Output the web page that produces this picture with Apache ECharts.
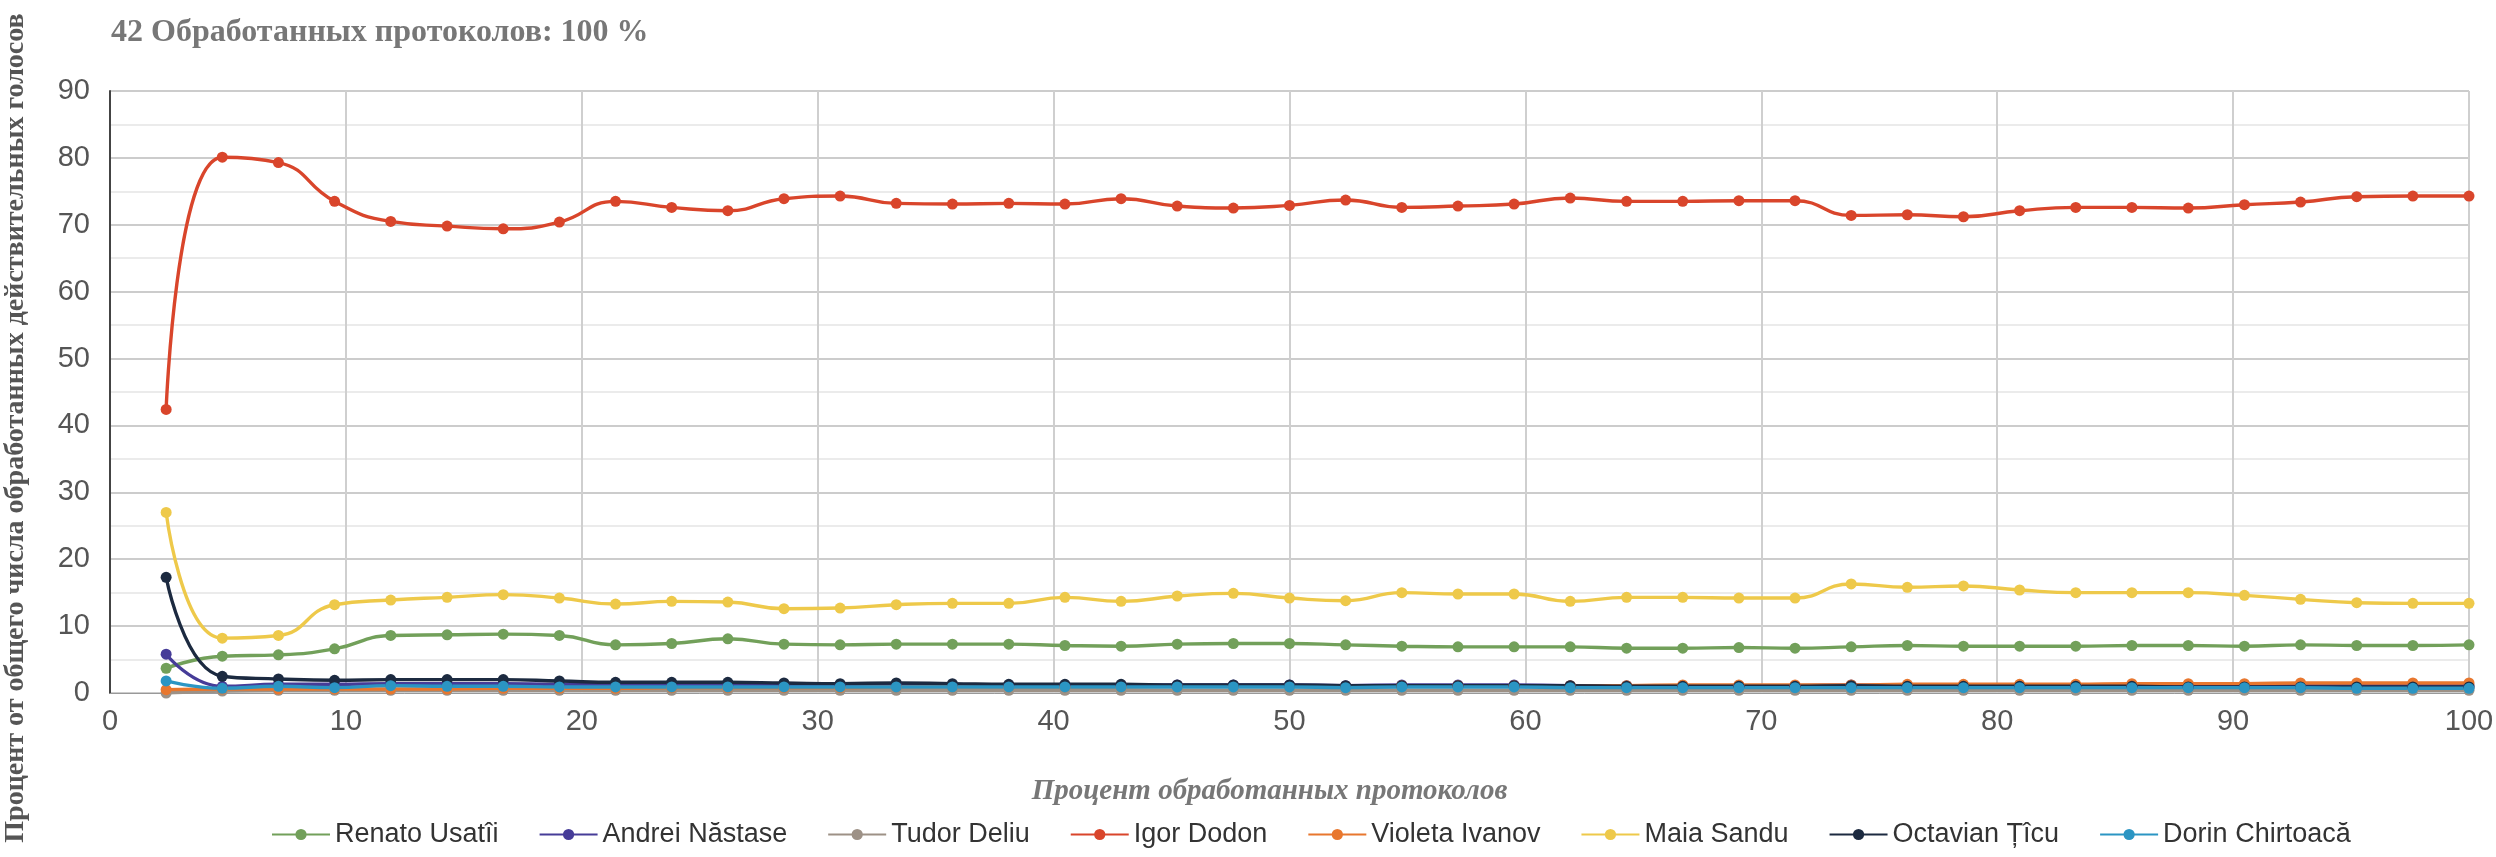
<!DOCTYPE html>
<html><head><meta charset="utf-8">
<script src="https://cdn.jsdelivr.net/npm/echarts@6/dist/echarts.min.js"></script>
<style>html,body{margin:0;padding:0;background:#fff}#c{width:2496px;height:857px}</style>
</head><body><div id="c"></div>
<script>
const xPercent = [2.38, 4.76, 7.14, 9.52, 11.9, 14.29, 16.67, 19.05, 21.43, 23.81, 26.19, 28.57, 30.95, 33.33, 35.71, 38.1, 40.48, 42.86, 45.24, 47.62, 50, 52.38, 54.76, 57.14, 59.52, 61.9, 64.29, 66.67, 69.05, 71.43, 73.81, 76.19, 78.57, 80.95, 83.33, 85.71, 88.1, 90.48, 92.86, 95.24, 97.62, 100];
const seriesNames = ['Renato Usatîi', 'Andrei Năstase', 'Tudor Deliu', 'Igor Dodon', 'Violeta Ivanov', 'Maia Sandu', 'Octavian Țîcu', 'Dorin Chirtoacă'];
const usatii = [3.7, 5.5, 5.7, 6.6, 8.6, 8.7, 8.8, 8.6, 7.2, 7.4, 8.1, 7.3, 7.2, 7.3, 7.3, 7.3, 7.1, 7.0, 7.3, 7.4, 7.4, 7.2, 7.0, 6.9, 6.9, 6.9, 6.7, 6.7, 6.8, 6.7, 6.9, 7.1, 7.0, 7.0, 7.0, 7.1, 7.1, 7.0, 7.2, 7.1, 7.1, 7.2];
const nastase = [5.8, 1.0, 1.3, 1.3, 1.4, 1.4, 1.4, 1.3, 1.3, 1.3, 1.2, 1.2, 1.2, 1.3, 1.2, 1.2, 1.2, 1.2, 1.2, 1.2, 1.2, 1.1, 1.2, 1.2, 1.2, 1.1, 1.1, 1.1, 1.1, 1.1, 1.2, 1.1, 1.1, 1.1, 1.1, 1.1, 1.1, 1.1, 1.1, 1.1, 1.1, 1.1];
const deliu = [0.0, 0.3, 0.4, 0.4, 0.4, 0.4, 0.4, 0.4, 0.4, 0.4, 0.4, 0.4, 0.4, 0.4, 0.4, 0.4, 0.4, 0.4, 0.4, 0.4, 0.4, 0.4, 0.4, 0.4, 0.4, 0.4, 0.4, 0.4, 0.4, 0.4, 0.4, 0.4, 0.4, 0.4, 0.4, 0.4, 0.4, 0.4, 0.4, 0.4, 0.4, 0.4];
const dodon = [42.4, 80.1, 79.3, 73.5, 70.5, 69.8, 69.4, 70.4, 73.5, 72.6, 72.1, 73.9, 74.3, 73.2, 73.1, 73.2, 73.1, 73.9, 72.8, 72.5, 72.9, 73.7, 72.6, 72.8, 73.1, 74.0, 73.5, 73.5, 73.6, 73.6, 71.4, 71.5, 71.2, 72.1, 72.6, 72.6, 72.5, 73.0, 73.4, 74.2, 74.3, 74.3];
const ivanov = [0.5, 0.6, 0.6, 0.6, 0.6, 0.6, 0.7, 0.7, 0.7, 0.8, 0.8, 0.8, 0.8, 0.9, 0.9, 0.9, 0.9, 0.9, 1.0, 1.0, 1.0, 1.0, 1.1, 1.1, 1.1, 1.1, 1.1, 1.2, 1.2, 1.2, 1.2, 1.3, 1.3, 1.3, 1.3, 1.4, 1.4, 1.4, 1.5, 1.5, 1.5, 1.5];
const sandu = [27.0, 8.2, 8.6, 13.2, 13.9, 14.3, 14.7, 14.2, 13.3, 13.7, 13.6, 12.6, 12.7, 13.2, 13.4, 13.4, 14.3, 13.7, 14.5, 14.9, 14.2, 13.8, 15.0, 14.8, 14.8, 13.7, 14.3, 14.3, 14.2, 14.2, 16.3, 15.8, 16.0, 15.4, 15.0, 15.0, 15.0, 14.6, 14.0, 13.5, 13.4, 13.4];
const ticu = [17.3, 2.5, 2.1, 1.9, 2.0, 2.0, 2.0, 1.8, 1.6, 1.6, 1.6, 1.5, 1.4, 1.5, 1.4, 1.3, 1.3, 1.3, 1.2, 1.2, 1.2, 1.1, 1.1, 1.1, 1.1, 1.1, 1.0, 1.0, 1.0, 1.0, 1.1, 1.0, 1.0, 1.0, 1.0, 1.0, 0.9, 0.9, 0.9, 0.9, 0.9, 0.9];
const chirtoaca = [1.8, 0.7, 1.0, 0.8, 1.1, 1.0, 1.0, 0.9, 0.9, 0.9, 0.9, 0.9, 0.9, 0.9, 0.9, 0.9, 0.9, 0.9, 0.9, 0.9, 0.9, 0.8, 0.9, 0.9, 0.9, 0.8, 0.8, 0.8, 0.8, 0.8, 0.8, 0.8, 0.8, 0.8, 0.8, 0.8, 0.8, 0.8, 0.8, 0.7, 0.7, 0.7];
const yTicks = [0, 10, 20, 30, 40, 50, 60, 70, 80, 90];
const xTicks = [0, 10, 20, 30, 40, 50, 60, 70, 80, 90, 100];
const colors = ['#72a05a', '#463c98', '#9d9186', '#d9452b', '#e8772e', '#eec94a', '#1c2a40', '#2b95c3'];
const yTitle = 'Процент от общего числа обработанных действительных голосов';

const allValues = [usatii, nastase, deliu, dodon, ivanov, sandu, ticu, chirtoaca];
const series = seriesNames.map((n, i) => ({
  name: n, type: 'line', smooth: 0.5,
  data: xPercent.map((x, j) => [x, allValues[i][j]]),
  symbol: 'circle', symbolSize: 11,
  lineStyle: { width: 3.4, color: colors[i] },
  itemStyle: { color: colors[i] },
  z: i === 3 ? 3 : 2
}));

const chart = echarts.init(document.getElementById('c'));
chart.setOption({
  animation: false,
  backgroundColor: '#fff',
  title: {
    text: '42 Обработанных протоколов: 100 %',
    left: 106, top: 12,
    textStyle: { fontFamily: 'Liberation Serif', fontWeight: 'bold', fontSize: 32, color: '#777' }
  },
  graphic: [{
    type: 'text',
    rotation: Math.PI / 2,
    position: [16, 428],
    style: { text: yTitle, fontFamily: 'Liberation Serif', fontWeight: 'bold', fontSize: 28, fill: '#555', textAlign: 'center', textVerticalAlign: 'middle' }
  }],
  legend: {
    data: seriesNames, bottom: 4, left: 266, itemGap: 40,
    itemWidth: 58, itemHeight: 14,
    textStyle: { fontFamily: 'Liberation Sans', fontSize: 27, color: '#333' }
  },
  grid: { left: 110, right: 27, top: 91, bottom: 164, containLabel: false, outerBoundsMode: 'none' },
  xAxis: {
    type: 'value', min: 0, max: 100, interval: 10,
    name: 'Процент обработанных протоколов', nameLocation: 'middle', nameGap: 84,
    nameTextStyle: { fontFamily: 'Liberation Serif', fontStyle: 'italic', fontWeight: 'bold', fontSize: 29, color: '#777', padding: [0, 40, 0, 0] },
    axisLine: { show: true, lineStyle: { color: '#999', width: 1 } },
    axisTick: { show: false },
    axisLabel: { fontFamily: 'Liberation Sans', fontSize: 29, color: '#555', margin: 14 },
    splitLine: { show: true, lineStyle: { color: '#cfcfcf', width: 2 } }
  },
  yAxis: {
    type: 'value', min: 0, max: 90, interval: 10,
    axisLine: { show: true, lineStyle: { color: '#444', width: 2 } },
    axisTick: { show: false },
    axisLabel: { fontFamily: 'Liberation Sans', fontSize: 29, color: '#555', margin: 20 },
    splitLine: { show: true, lineStyle: { color: '#cccccc', width: 2 } },
    minorTick: { show: false, splitNumber: 2 },
    minorSplitLine: { show: true, lineStyle: { color: '#ebebeb', width: 2 } }
  },
  series: series
});
</script></body></html>
